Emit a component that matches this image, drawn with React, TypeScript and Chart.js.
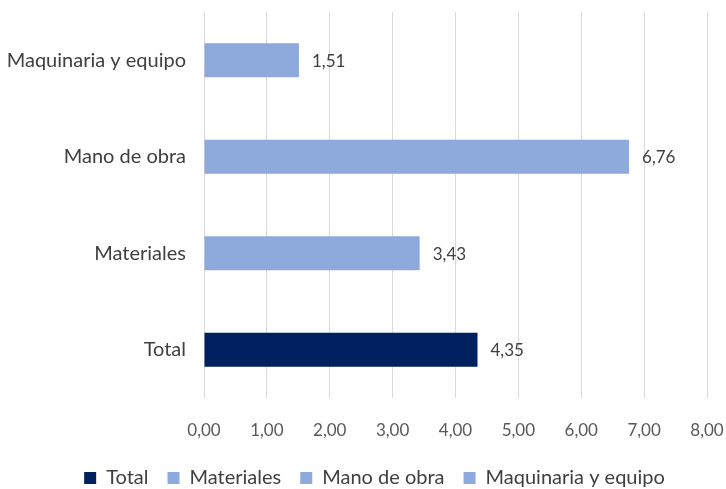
import React, { useEffect, useRef } from "react";
import { Chart, registerables } from "chart.js";

Chart.register(...registerables);

const categories = ["Maquinaria y equipo", "Mano de obra", "Materiales", "Total"];
const seriesNames = ["Total", "Materiales", "Mano de obra", "Maquinaria y equipo"];
const totalValues = [null, null, null, 4.35];
const materialesValues = [null, null, 3.43, null];
const manoDeObraValues = [null, 6.76, null, null];
const maquinariaValues = [1.51, null, null, null];
const xTickMax = 8;

const FONT = "Lato";
const DARK = "#002060";
const LIGHT = "#8EA9DB";

const fmt = (v: number) => v.toFixed(2).replace(".", ",");

const dataLabelPlugin = {
  id: "dataLabels",
  afterDatasetsDraw(chart: any) {
    const ctx = chart.ctx;
    ctx.save();
    ctx.font = `17px ${FONT}`;
    ctx.fillStyle = "#404040";
    ctx.textAlign = "left";
    ctx.textBaseline = "middle";
    chart.data.datasets.forEach((ds: any, i: number) => {
      const meta = chart.getDatasetMeta(i);
      meta.data.forEach((el: any, j: number) => {
        const v = ds.data[j];
        if (v === null || v === undefined) return;
        ctx.fillText(fmt(v), el.x + 13, el.y + 1);
      });
    });
    ctx.restore();
  },
};

const legendShiftPlugin = {
  id: "legendShift",
  afterLayout(chart: any) {
    const lg = chart.legend;
    if (lg) {
      lg.left += 17;
      lg.right += 17;
    }
  },
};

export default function App() {
  const ref = useRef<HTMLCanvasElement>(null);
  useEffect(() => {
    document.body.style.margin = "0";
    const series = [totalValues, materialesValues, manoDeObraValues, maquinariaValues];
    const colors = [DARK, LIGHT, LIGHT, LIGHT];
    const chart = new Chart(ref.current!, {
      type: "bar",
      data: {
        labels: categories,
        datasets: series.map((d, i) => ({
          label: seriesNames[i],
          data: d as any,
          backgroundColor: colors[i],
          borderWidth: 0,
          categoryPercentage: 1,
          barPercentage: 0.35,
        })),
      },
      options: {
        indexAxis: "y",
        animation: false,
        responsive: false,
        maintainAspectRatio: false,
        layout: { padding: { top: 12, right: 19, left: 8, bottom: -9 } },
        scales: {
          x: {
            stacked: true,
            min: 0,
            max: xTickMax,
            afterFit: (s: any) => {
              s.height = 51;
              s.paddingLeft = 0;
              s.paddingRight = 0;
            },
            ticks: {
              stepSize: 1,
              callback: (v: any) => fmt(Number(v)),
              color: "#595959",
              font: { family: FONT, size: 17 },
              padding: 22,
            },
            grid: { color: "#d9d9d9", lineWidth: 1, drawTicks: false },
            border: { display: false },
          },
          y: {
            stacked: true,
            afterFit: (s: any) => {
              s.width = 196;
              s.paddingTop = 0;
              s.paddingBottom = 0;
            },
            ticks: {
              color: "#404040",
              font: { family: FONT, size: 20 },
              padding: 18,
            },
            grid: { display: false, drawTicks: false },
            border: { display: false },
          },
        },
        plugins: {
          legend: {
            position: "bottom",
            labels: {
              boxWidth: 12,
              boxHeight: 12,
              color: "#404040",
              font: { family: FONT, size: 20 },
              padding: 19,
            },
          },
          tooltip: { enabled: false },
        },
      },
      plugins: [dataLabelPlugin, legendShiftPlugin],
    });
    return () => chart.destroy();
  }, []);
  return (
    <div style={{ width: 726, height: 489 }}>
      <canvas ref={ref} width={726} height={489} />
    </div>
  );
}
